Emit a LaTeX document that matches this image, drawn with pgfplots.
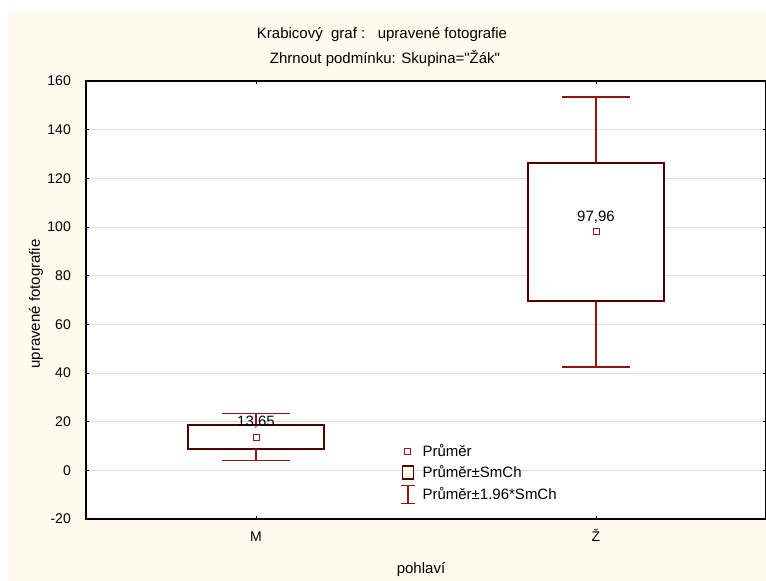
\documentclass[border=0pt]{standalone}
\usepackage{pgfplots}
\pgfplotsset{compat=1.18}
\usepgfplotslibrary{statistics}
\usepackage{fontspec}
\setmainfont{Liberation Sans}
\newfontfamily\plainf{Liberation Sans}[Ligatures=TeXOff]
\definecolor{cream}{RGB}{255,250,238}
\definecolor{boxc}{RGB}{80,0,0}
\definecolor{whisk}{RGB}{150,20,20}
\definecolor{gridc}{RGB}{221,221,221}
\newcommand{\bigf}{\fontsize{15}{18}\selectfont}
\newcommand{\tickf}{\fontsize{14}{16}\selectfont}
\begin{document}
\begin{tikzpicture}[font=\bigf]
\fill[white] (0pt,0pt) rectangle (766pt,581pt);
\fill[cream] (8pt,0pt) rectangle (766pt,569pt);
\begin{axis}[
  at={(86pt,62pt)}, anchor=south west,
  scale only axis, width=680pt, height=438pt,
  xmin=-0.5, xmax=1.5, ymin=-20, ymax=160,
  ytick={-20,0,20,40,60,80,100,120,140,160},
  xtick={0,1}, xticklabels={M,Ž},
  axis background/.style={fill=white},
  ymajorgrids, grid style={gridc, line width=0.9pt},
  tick align=inside, major tick length=3pt,
  tick style={black, line width=0.8pt},
  axis line style={black, line width=1.6pt},
  /pgf/number format/assume math mode=true,
  ticklabel style={font=\tickf},
  yticklabel style={anchor=east, inner sep=0pt, xshift=-15pt},
  xticklabel style={anchor=base, inner sep=0pt, yshift=-22.7pt},
  boxplot/draw direction=y,
  boxplot/every box/.style={draw=boxc, line width=1.6pt, fill=white},
  boxplot/every whisker/.style={draw=whisk, line width=1.2pt},
  boxplot/every median/.style={draw=none},
  legend style={draw=none, fill=none, inner sep=0pt, column sep=5pt,
    at={(0.462,0.1798)}, anchor=north west,
    font=\bigf,
    nodes={inner sep=2pt, text depth=0.15em}},
  legend cell align=left,
]
\addplot[forget plot, boxplot prepared={draw position=0,
  lower whisker=4.05, lower quartile=8.75, median=13.65,
  upper quartile=18.55, upper whisker=23.25,
  box extend=0.4, whisker extend=0.2}] coordinates {};
\addplot[forget plot, boxplot prepared={draw position=1,
  lower whisker=42.49, lower quartile=69.66, median=97.96,
  upper quartile=126.26, upper whisker=153.43,
  box extend=0.4, whisker extend=0.2}] coordinates {};
\addplot[forget plot, only marks, mark=square*, mark size=3pt,
  mark options={draw=whisk, fill=white, line width=1pt},
  nodes near coords, point meta=explicit symbolic,
  nodes near coords style={anchor=base, inner sep=0pt, yshift=10.5pt, black,
    font=\bigf}]
  coordinates {(0,13.65) [13,65] (1,97.96) [97,96]};
\addlegendimage{legend image code/.code={
  \path[draw=none,fill=none] (-1.5pt,-10.75pt) rectangle (12.5pt,10.75pt);
  \draw[whisk, fill=white, line width=1pt] (2.5pt,-3pt) rectangle (8.5pt,3pt);}}
\addlegendentry{Průměr}
\addlegendimage{legend image code/.code={
  \path[draw=none,fill=none] (-1.5pt,-10.75pt) rectangle (12.5pt,10.75pt);
  \draw[boxc, fill=cream, line width=1.5pt] (0pt,-6.5pt) rectangle (11pt,6.5pt);}}
\addlegendentry{Průměr±SmCh}
\addlegendimage{legend image code/.code={
  \path[draw=none,fill=none] (-1.5pt,-10.75pt) rectangle (12.5pt,10.75pt);
  \draw[whisk, line width=1.2pt] (5.5pt,-9pt) -- (5.5pt,9pt)
    (-1.5pt,-9pt) -- (12.5pt,-9pt) (-1.5pt,9pt) -- (12.5pt,9pt);}}
\addlegendentry{Průměr±1.96*SmCh}
\end{axis}
\node[anchor=base] at (382pt,542pt) {Krabicový\ \ graf :\ \ \ upravené fotografie};
\node[anchor=base] at (385pt,517.7pt) {\plainf Zhrnout podmínku: Skupina="Žák"};
\node[rotate=90] at (36pt,277pt) {upravené fotografie};
\node[anchor=base] at (421pt,7pt) {pohlaví};
\pgfresetboundingbox
\useasboundingbox (0pt,0pt) rectangle (766pt,581pt);
\end{tikzpicture}
\end{document}
